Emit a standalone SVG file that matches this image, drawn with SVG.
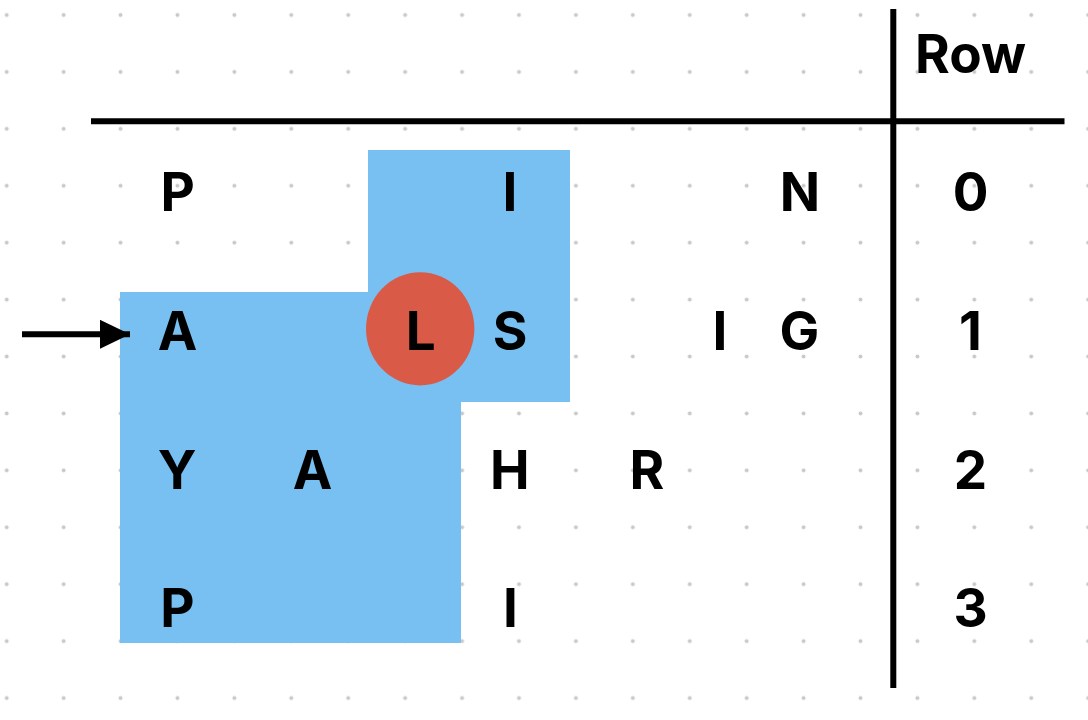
<svg xmlns="http://www.w3.org/2000/svg" width="1088" height="720" viewBox="0 0 1088 720">
  <style>
    .t { font-family: Inter, Roboto, "Liberation Sans", sans-serif; font-weight: 700; font-size: 53px; fill: #000; text-anchor: middle; }
    .rule { stroke: #000; stroke-width: 6; fill: none; }
  </style>
  <defs>
    <pattern id="dots" patternUnits="userSpaceOnUse" x="-21.76" y="-13.46" width="56.92" height="56.92">
      <circle cx="28.46" cy="28.46" r="2" fill="#C9C9C9"/>
    </pattern>
    <marker id="arrow" markerUnits="userSpaceOnUse" markerWidth="32" markerHeight="30" refX="30" refY="14.5" orient="auto">
      <polygon points="0,0 30,14.5 0,29" fill="#000"/>
    </marker>
  </defs>
  <rect width="1088" height="720" fill="#FFFFFF"/>
  <rect width="1088" height="720" fill="url(#dots)"/>

  <g id="highlight">
    <polygon points="368,150 570,150 570,402 461,402 461,643 120,643 120,292 368,292" fill="#77C0F1"/>
    <ellipse cx="420.2" cy="328.8" rx="54.2" ry="56.6" fill="#D95B47"/>
  </g>

  <g id="table-lines">
    <line class="rule" x1="91" y1="121.3" x2="1064.5" y2="121.3"/>
    <line class="rule" x1="893.3" y1="9" x2="893.3" y2="688"/>
  </g>

  <g id="connectors">
    <line x1="22" y1="334.3" x2="130" y2="334.3" stroke="#000" stroke-width="6" marker-end="url(#arrow)"/>
  </g>

  <g id="header"><text class="t" x="970.5" y="72.5">Row</text></g>

  <g id="row0">
    <text class="t" x="177.7" y="211">P</text>
    <text class="t" x="510" y="211">I</text>
    <text class="t" x="800" y="211">N</text>
    <text class="t" x="970.5" y="211">0</text>
  </g>
  <g id="row1">
    <text class="t" x="177.5" y="349.7">A</text>
    <text class="t" x="420.8" y="349.7">L</text>
    <text class="t" x="510" y="349.7">S</text>
    <text class="t" x="720" y="349.7">I</text>
    <text class="t" x="799.5" y="349.7">G</text>
    <text class="t" x="970.5" y="349.7">1</text>
  </g>
  <g id="row2">
    <text class="t" x="177" y="488.5">Y</text>
    <text class="t" x="312.5" y="488.5">A</text>
    <text class="t" x="509.7" y="488.5">H</text>
    <text class="t" x="647" y="488.5">R</text>
    <text class="t" x="970.5" y="488.5">2</text>
  </g>
  <g id="row3">
    <text class="t" x="177.5" y="627">P</text>
    <text class="t" x="510.5" y="627">I</text>
    <text class="t" x="970.5" y="627">3</text>
  </g>
</svg>
